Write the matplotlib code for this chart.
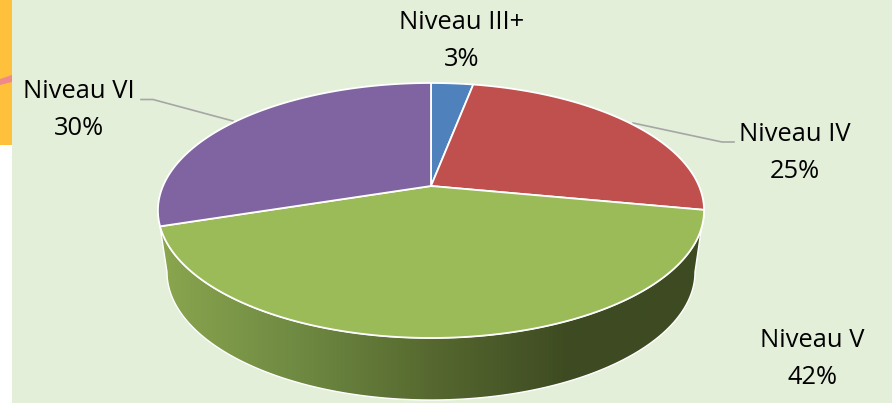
import numpy as np
import matplotlib
matplotlib.use("Agg")
import matplotlib.pyplot as plt
from matplotlib.patches import Polygon, Rectangle
from matplotlib.colors import LinearSegmentedColormap

labels = ["Niveau III+", "Niveau IV", "Niveau V", "Niveau VI"]
percents = [3, 25, 42, 30]
colors = ["#4F81BD", "#C0504D", "#9BBB59", "#8064A2"]

BG = "#E3EFD9"
CX, CY = 431, 186      # where the slices meet
R, B, K = 268, 122.8, 0.192   # perspective of the top face
DEPTH_CY, DEPTH_RX, DEPTH_RY = 272, 264, 128


def project(frac):
    # clockwise from 12 o'clock, tilted circle with perspective
    th = 2 * np.pi * np.asarray(frac)
    u, v = np.sin(th), np.cos(th)
    w = 1 + K * v
    return CX + R * u / w, CY - B * v / w


plt.rcParams["font.family"] = ["Open Sans", "DejaVu Sans"]
fig = plt.figure(figsize=(8.92, 4.03), dpi=100, facecolor="white")
ax = fig.add_axes([0, 0, 1, 1])

# backdrop
ax.add_patch(Rectangle((12, 0), 880, 403, fc=BG, ec="none", zorder=0))
ax.add_patch(Rectangle((0, 0), 12, 145, fc="#FFC13B", ec="none", zorder=1))
ax.add_patch(Polygon([(0, 79), (12, 75), (12, 82), (0, 85)], fc="#F08A8A", ec="none", zorder=2))

# side wall of the green slice, with the horizontal shading
tx, ty = project(np.linspace(0.28, 0.70, 200))
t = np.linspace(0, 1, 200)
bx = CX + DEPTH_RX * np.cos(np.pi * t)
by = DEPTH_CY + DEPTH_RY * np.sin(np.pi * t)
wall = np.r_[np.c_[tx, ty], np.c_[bx[::-1], by[::-1]]]
grad = LinearSegmentedColormap.from_list(
    "wall", ["#8AA64E", "#6F8A42", "#56682F", "#3E4B22", "#3E4B22"])
img = ax.imshow(np.linspace(0, 1, 400)[None, :], extent=(160, 704, 403, 0), aspect="auto",
                cmap=grad, zorder=3)
poly = Polygon(wall, fc="none", ec="white", lw=1.0, zorder=4)
ax.add_patch(poly)
img.set_clip_path(poly)

# top face
start = 0
for pct, col in zip(percents, colors):
    x, y = project(np.linspace(start, start + pct, 120) / 100)
    ax.add_patch(Polygon(np.r_[[[CX, CY]], np.c_[x, y]], fc=col, ec="white", lw=1.3, zorder=5))
    start += pct

# leader lines
ax.plot([141, 153, 233], [99.5, 99.5, 121], color="#A6A6A6", lw=1.2, zorder=4)
ax.plot([633, 722, 734], [123, 142, 142], color="#A6A6A6", lw=1.2, zorder=4)

# data labels
pos = [(462, 41), (795, 153), (812, 359), (79, 110)]
for lab, pct, (px, py) in zip(labels, percents, pos):
    ax.text(px, py, f"{lab}\n{pct}%", ha="center", va="center", fontsize=18.4,
            color="black", linespacing=1.6, zorder=6)

ax.set_xlim(0, 892)
ax.set_ylim(403, 0)
ax.axis("off")

fig.savefig("out.png", dpi=100, facecolor="white")
